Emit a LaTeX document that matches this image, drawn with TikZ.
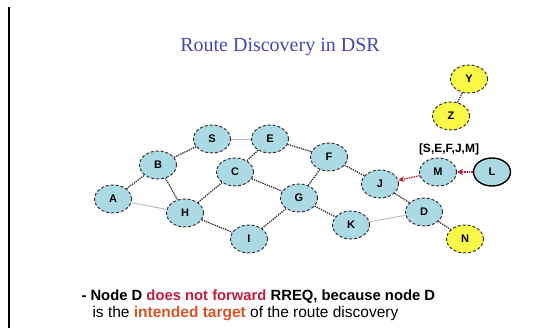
\documentclass[tikz,border=0pt]{standalone}
\usepackage{fontspec}
\setmainfont{Liberation Serif}
\setsansfont{Liberation Sans}
\usetikzlibrary{shapes.geometric,arrows.meta}
\definecolor{nodeblue}{RGB}{172,218,228}
\definecolor{nodeyellow}{RGB}{250,248,70}
\definecolor{titleblue}{RGB}{72,72,170}
\definecolor{rreqred}{RGB}{196,30,58}
\definecolor{targetred}{RGB}{214,84,40}
\definecolor{linkgray}{RGB}{50,50,50}
\tikzset{
  host/.style={ellipse, draw=linkgray, densely dashed, line width=1pt,
    fill=nodeblue, minimum width=37pt, minimum height=28pt, inner sep=0pt,
    font=\sffamily\bfseries\fontsize{11}{13}\selectfont},
  outsider/.style={host, fill=nodeyellow},
  source/.style={host, solid, draw=black, line width=1.4pt},
  link/.style={draw=linkgray, densely dotted, line width=1.3pt},
  plainlink/.style={draw=gray!55, line width=0.9pt},
  rreq/.style={draw=rreqred, densely dotted, line width=1.4pt,
    -{Stealth[length=6pt,width=6pt]}},
  caption/.style={anchor=west}
}
\begin{document}
\begin{tikzpicture}[x=1pt,y=-1pt]
  \useasboundingbox[fill=white] (0,0) rectangle (541,328);
  % slide edge
  \draw[line width=2pt] (9,7) -- (9,328);

  \node (title) at (280,47) {\color{titleblue}\fontsize{20}{24}\selectfont Route Discovery in DSR};

  % hosts
  \node[host] (A) at (113,199) {A};
  \node[host] (B) at (158,165) {B};
  \node[host] (S) at (212,139) {S};
  \node[host] (E) at (270,139) {E};
  \node[host] (C) at (235,172) {C};
  \node[host] (H) at (185,213) {H};
  \node[host] (I) at (249,239) {I};
  \node[host] (G) at (299,198) {G};
  \node[host] (F) at (329,157) {F};
  \node[host] (K) at (351,225) {K};
  \node[host] (J) at (380,184) {J};
  \node[host] (M) at (438,172) {M};
  \node[source] (L) at (492,172) {L};
  \node[host] (D) at (424,212) {D};
  \node[outsider] (N) at (465,239) {N};
  \node[outsider] (Z) at (451,116) {Z};
  \node[outsider] (Y) at (469,79) {Y};

  \node[font=\sffamily\bfseries\fontsize{12}{14}\selectfont] (route) at (449,149) {[S,E,F,J,M]};

  % links
  \draw[link] (A) -- (B);
  \draw[plainlink] (A) -- (H);
  \draw[link] (B) -- (S);
  \draw[plainlink] (S) -- (E);
  \draw[link] (B) -- (H);
  \draw[link] (H) -- (C);
  \draw[link] (E) -- (C);
  \draw[link] (E) -- (F);
  \draw[link] (C) -- (G);
  \draw[link] (H) -- (I);
  \draw[link] (I) -- (G);
  \draw[link] (G) -- (F);
  \draw[link] (G) -- (K);
  \draw[link] (F) -- (J);
  \draw[plainlink] (K) -- (D);
  \draw[link] (J) -- (D);
  \draw[link] (D) -- (N);
  \draw[link] (Z) -- (Y);

  % route request propagation
  \draw[rreq] (M) -- (J);
  \draw[rreq] (L) -- (M);

  % explanation
  \node[caption, font=\sffamily\bfseries\fontsize{14.8}{17}\selectfont] (line1) at (78,297)
    {- Node D \textcolor{rreqred}{does not forward} RREQ, because node D};
  \node[caption, font=\sffamily\fontsize{15.5}{17}\selectfont] (line2) at (89,314)
    {is the \textcolor{targetred}{\bfseries intended target} of the route discovery};
\end{tikzpicture}
\end{document}
